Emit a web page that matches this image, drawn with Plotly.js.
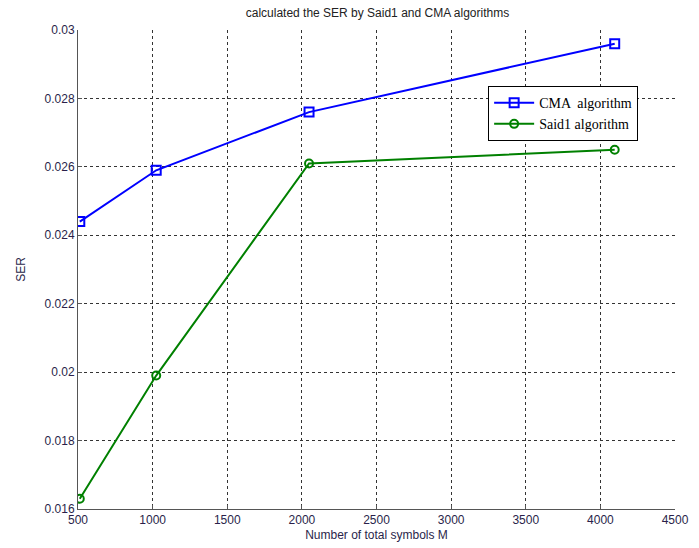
<!DOCTYPE html>
<html><head><meta charset="utf-8">
<script src="https://cdn.plot.ly/plotly-3.0.1.min.js"></script>
<style>body{margin:0;background:#fff}#c{width:699px;height:548px}</style>
</head><body><div id="c"></div>
<script>
const symbols = [512, 1024, 2048, 4096];
const cmaSER = [0.0244, 0.0259, 0.0276, 0.0296];
const said1SER = [0.0163, 0.0199, 0.0261, 0.0265];
const seriesNames = ["CMA  algorithm", "Said1 algorithm"];

const traces = [
  {x: symbols, y: cmaSER, name: seriesNames[0], mode: 'lines+markers', type: 'scatter',
   line: {color: '#0000ff', width: 2}, marker: {symbol: 'square-open', size: 9, color: '#0000ff', line: {width: 2}}},
  {x: symbols, y: said1SER, name: seriesNames[1], mode: 'lines+markers', type: 'scatter',
   line: {color: '#008000', width: 2}, marker: {symbol: 'circle-open', size: 8, color: '#008000', line: {width: 2}}}
];
const axFont = {family: 'Liberation Sans, Arial, sans-serif', size: 12, color: '#2a1f4a'};
const layout = {
  width: 699, height: 548,
  margin: {l: 78, r: 24, t: 30, b: 39},
  paper_bgcolor: '#fff', plot_bgcolor: '#fff',
  showlegend: true,
  title: {text: 'calculated the SER by Said1 and CMA algorithms', font: {family: 'Liberation Sans, Arial, sans-serif', size: 12, color: '#222'}, x: 0.54, xanchor: 'center', y: 0.985, yanchor: 'top'},
  xaxis: {range: [500, 4500], dtick: 500, tick0: 500, tickfont: axFont,
    showgrid: true, gridcolor: '#333', griddash: '3px,3px', gridwidth: 1,
    showline: true, linecolor: '#555', linewidth: 1, mirror: false,
    ticks: 'inside', ticklen: 4, tickcolor: '#555', zeroline: false,
    title: {text: 'Number of total symbols M', font: axFont, standoff: 4}},
  yaxis: {range: [0.016, 0.03], dtick: 0.002, tick0: 0.016, tickfont: axFont,
    showgrid: true, gridcolor: '#333', griddash: '3px,3px', gridwidth: 1,
    showline: true, linecolor: '#555', linewidth: 1,
    ticks: 'inside', ticklen: 4, tickcolor: '#555', zeroline: false,
    title: {text: 'SER', font: axFont, standoff: 16}},
  legend: {x: 0.687, y: 0.883, xanchor: 'left', yanchor: 'top',
    bgcolor: '#fff', bordercolor: '#000', borderwidth: 1,
    font: {family: 'Liberation Serif, Times New Roman, serif', size: 14, color: '#000'},
    tracegroupgap: 0, itemwidth: 40}
};
Plotly.newPlot('c', traces, layout, {displayModeBar: false, staticPlot: true});
</script></body></html>
